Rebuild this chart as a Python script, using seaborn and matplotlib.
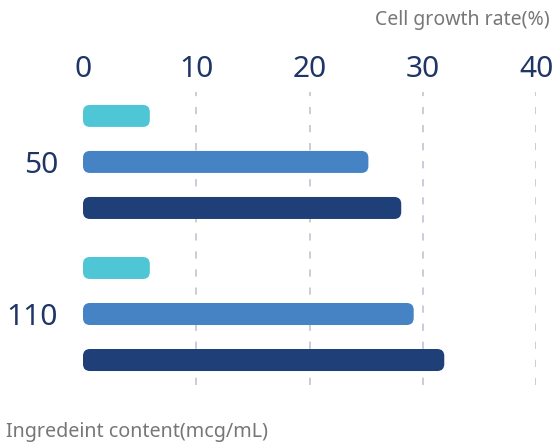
import pandas as pd
import matplotlib
matplotlib.use("Agg")
import matplotlib.pyplot as plt
from matplotlib.patches import FancyBboxPatch
import seaborn as sb

# data
contents = ["50", "110"]
series = ["Group A", "Group B", "Group C"]
group_a = [5.9, 5.9]
group_b = [25.2, 29.2]
group_c = [28.1, 31.9]
colors = ["#4fc6d5", "#4583c4", "#1f3f78"]
x_ticks = [0, 10, 20, 30, 40]

rows = []
for name, vals in zip(series, [group_a, group_b, group_c]):
    for c, v in zip(contents, vals):
        rows.append({"content": c, "rate": v, "series": name})
df = pd.DataFrame(rows)

sb.set_style("white")
plt.rcParams["font.family"] = ["Noto Sans", "DejaVu Sans"]

fig = plt.figure(figsize=(5.54, 4.45), dpi=100)
ax = fig.add_axes([83 / 554, 1 - 385 / 445, 453 / 554, 293 / 445])

sb.barplot(data=df, y="content", x="rate", hue="series", order=contents,
           hue_order=series, palette=colors, orient="h", width=0.908,
           legend=False, saturation=1, ax=ax)

ax.set_xlim(0, 40)
ax.set_ylim(1.467, -0.46)

# swap the plain rectangles for rounded ones
bar_h = 22 / 152
radius = 7 / 11.33
aspect = (1 / 152) / (1 / 11.33)
for p in list(ax.patches):
    x0, y0 = p.get_x(), p.get_y()
    w, h = p.get_width(), p.get_height()
    cy = y0 + h / 2
    col = p.get_facecolor()
    p.remove()
    ax.add_patch(FancyBboxPatch((x0, cy - bar_h / 2), w, bar_h,
                                boxstyle=f"round,pad=0,rounding_size={radius}",
                                mutation_aspect=aspect, facecolor=col,
                                edgecolor="none", zorder=3))

ax.xaxis.tick_top()
ax.set_xticks(x_ticks)
ax.tick_params(axis="x", length=0, pad=6, labelsize=21.5, labelcolor="#1e3565")
ax.tick_params(axis="y", length=0, pad=18, labelsize=21.5, labelcolor="#1e3565")
ax.set_xlabel("")
ax.set_ylabel("")
for s in ax.spines.values():
    s.set_visible(False)

ax.grid(axis="x", linestyle=(0, (4, 6)), color="#c6c8d8", linewidth=1.3)
ax.grid(axis="y", visible=False)
ax.xaxis.get_gridlines()[0].set_visible(False)
ax.set_axisbelow(True)

fig.text(550 / 554, 1 - 20 / 445, "Cell growth rate(%)", ha="right", va="center",
         fontsize=14, color="#777777")
fig.text(6 / 554, 1 - 432 / 445, "Ingredeint content(mcg/mL)", ha="left", va="center",
         fontsize=14.2, color="#777777")

fig.savefig("out.png", dpi=100)
